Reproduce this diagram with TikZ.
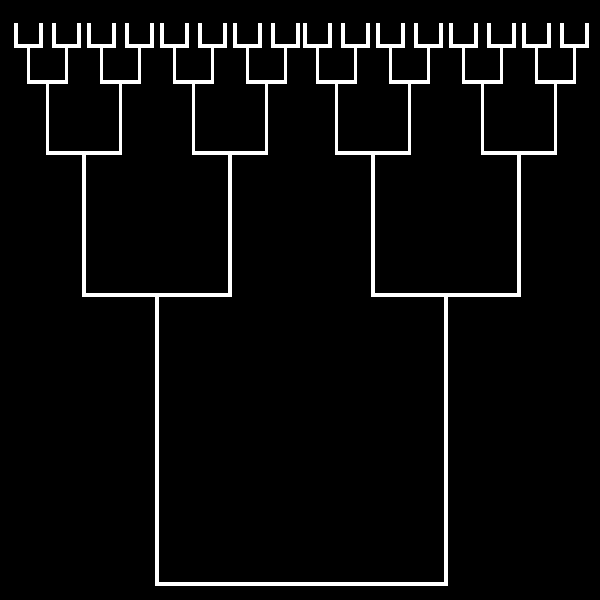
\documentclass[tikz,border=0pt]{standalone}
\begin{document}
\begin{tikzpicture}[x=1pt,y=-1pt]
\tikzset{branch/.style={draw=white,line width=3.3pt,line join=miter}}
\newcommand\Ushape[4]{% center, half width, top, bottom
  \draw[branch] (#1-#2,#3) -- (#1-#2,#4) -- (#1+#2,#4) -- (#1+#2,#3);}
\fill[black] (0,0) rectangle (600,600);
\useasboundingbox (0,0) rectangle (600,600);
\Ushape{301.5}{144.5}{295}{584}
\foreach \a in {-1,1}{
  \pgfmathsetmacro\cb{301.5+\a*144.5}
  \Ushape{\cb}{73}{153}{295}
  \foreach \b in {-1,1}{
    \pgfmathsetmacro\cc{\cb+\b*73}
    \Ushape{\cc}{36.5}{82}{153}
    \foreach \c in {-1,1}{
      \pgfmathsetmacro\cd{\cc+\c*36.5}
      \Ushape{\cd}{19}{46}{82}
      \foreach \d in {-1,1}{
        \pgfmathsetmacro\ce{\cd+\d*19}
        \Ushape{\ce}{12.5}{23}{46}
      }
    }
  }
}
\end{tikzpicture}
\end{document}
